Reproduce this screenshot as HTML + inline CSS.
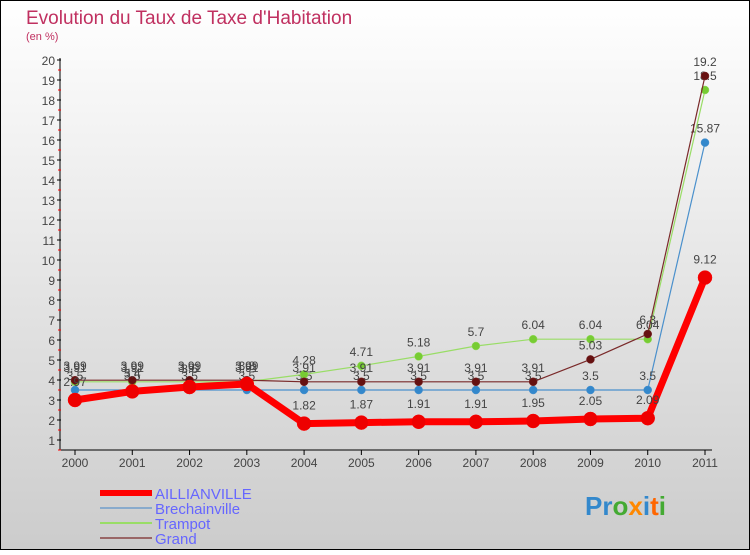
<!DOCTYPE html>
<html><head><meta charset="utf-8"><style>
html,body{margin:0;padding:0}
body{width:750px;height:550px;overflow:hidden;font-family:"Liberation Sans",sans-serif}
</style></head><body>
<svg id="chart" width="750" height="550" xmlns="http://www.w3.org/2000/svg">
<defs><linearGradient id="bg" x1="0" y1="0" x2="0" y2="1"><stop offset="0" stop-color="#ffffff"/><stop offset="1" stop-color="#cccccc"/></linearGradient></defs>
<rect x="0.5" y="0.5" width="749" height="549" fill="url(#bg)" stroke="#000" stroke-width="1"/>
<text x="26" y="24" font-size="19" fill="#c03060">Evolution du Taux de Taxe d'Habitation</text>
<text x="26" y="40" font-size="11" fill="#c03060">(en %)</text>
<g id="axes"></g>
<g id="series"></g>
<g id="legend"></g>
<text x="585" y="515" font-size="26" font-weight="bold" fill="#3388cc">Pr<tspan fill="#44aa33">o</tspan><tspan fill="#ff8800">x</tspan><tspan fill="#3388cc">i</tspan><tspan fill="#ff6600">t</tspan><tspan fill="#44aa33">i</tspan></text>
</svg>
<script>
const years=[2000,2001,2002,2003,2004,2005,2006,2007,2008,2009,2010,2011];
const yTicks=[1,2,3,4,5,6,7,8,9,10,11,12,13,14,15,16,17,18,19,20];
const aillianville=[3.0,3.43,3.65,3.8,1.82,1.87,1.91,1.91,1.95,2.05,2.09,9.12];
const aillianvilleLabels=["2.97","3.4","3.6","3.8","1.82","1.87","1.91","1.91","1.95","2.05","2.09","9.12"];
const brechainville=[3.5,3.5,3.5,3.5,3.5,3.5,3.5,3.5,3.5,3.5,3.5,15.87];
const trampot=[3.91,3.91,3.91,3.91,4.28,4.71,5.18,5.7,6.04,6.04,6.04,18.5];
const grand=[3.99,3.99,3.99,3.99,3.91,3.91,3.91,3.91,3.91,5.03,6.3,19.2];
const seriesNames=["AILLIANVILLE","Brechainville","Trampot","Grand"];

const NS="http://www.w3.org/2000/svg";
function x(i){return 75+i*(630/11);}
function y(v){return 440-(v-1)*20;}
function mk(tag,attrs,parent,text){const e=document.createElementNS(NS,tag);for(const k in attrs)e.setAttribute(k,attrs[k]);if(text!==undefined)e.textContent=text;parent.appendChild(e);return e;}
const axes=document.getElementById('axes'), ser=document.getElementById('series'), leg=document.getElementById('legend');
let e;
e=mk('line',{x1:60,y1:58,x2:60,y2:450,stroke:'#000'},axes);


e=mk('line',{x1:60,y1:450,x2:712,y2:450,stroke:'#000'},axes);


yTicks.forEach(t=>{
  mk('line',{x1:57,y1:y(t),x2:61,y2:y(t),stroke:'#000'},axes);
  mk('line',{x1:58,y1:y(t)+10,x2:61,y2:y(t)+10,stroke:'#f00'},axes);
  e=mk('text',{x:55,y:y(t)+5,'font-size':12,'text-anchor':'end',fill:'#444'},axes,String(t));
  
  
});
years.forEach((yr,i)=>{
  mk('line',{x1:x(i),y1:450,x2:x(i),y2:455,stroke:'#000'},axes);
  e=mk('text',{x:x(i),y:467,'font-size':12,'text-anchor':'middle',fill:'#444'},axes,String(yr));
  
  
});
function drawSeries(vals,labels,color,dot,w,r,name,dy){
  const pts=vals.map((v,i)=>x(i)+','+y(v)).join(' ');
  e=mk('polyline',{points:pts,fill:'none',stroke:color,'stroke-width':w,'stroke-linejoin':'round'},ser);
  
  
  vals.forEach((v,i)=>{
    e=mk('circle',{cx:x(i),cy:y(v),r:r,fill:dot,stroke:color,'stroke-width':0.5},ser);
    
    
    e=mk('text',{x:x(i),y:y(v)+dy,'font-size':12,'text-anchor':'middle',fill:'#444'},ser,labels[i]);
    
    
  });
}
drawSeries(brechainville,brechainville.map(String),'#4a90cc','#3388cc',1.2,4,'brechainville',-10);
drawSeries(trampot,trampot.map(String),'#99dd66','#77cc33',1.2,4,'trampot',-10);
drawSeries(grand,grand.map(String),'#7a2a2a','#661111',1.2,4,'grand',-10);
drawSeries(aillianville,aillianvilleLabels,'#ff0000','#ee0000',7,7,'aillianville',-14);
const legColors=['#ff0000','#88aacc','#99dd66','#996666'];
const legW=[6,2,2,2];
seriesNames.forEach((n,i)=>{
  const ly=493+i*15;
  e=mk('line',{x1:100,y1:ly,x2:152,y2:ly,stroke:legColors[i],'stroke-width':legW[i]},leg);
  
  
  e=mk('text',{x:155,y:ly+6,'font-size':15,fill:'#6666ff'},leg,n);
  
  
});
</script>
</body></html>
